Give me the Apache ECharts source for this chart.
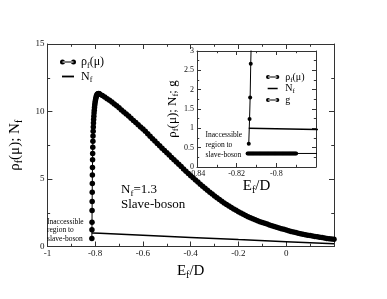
<!DOCTYPE html>
<html><head><meta charset="utf-8">
<script src="https://cdn.jsdelivr.net/npm/echarts@6/dist/echarts.min.js"></script>
<style>html,body{margin:0;padding:0;background:#fff}#c{width:387px;height:299px}</style>
</head><body><div id="c"></div>
<script>
// ---- data ----
const rhoE = [-0.8139,-0.8135,-0.8132,-0.8129,-0.8126,-0.8123,-0.812,-0.8117,-0.8113,-0.8109,-0.8105,-0.81,-0.8095,-0.809,-0.8084,-0.8078,-0.8071,-0.8064,-0.8056,-0.8047,-0.8038,-0.8028,-0.8017,-0.8005,-0.7992,-0.7978,-0.7962,-0.7945,-0.7925,-0.7903,-0.788,-0.7855,-0.783,
-0.78,-0.77,-0.76,-0.75,-0.74,-0.73,-0.72,-0.71,-0.70,-0.69,-0.68,-0.67,-0.66,-0.65,-0.64,-0.63,-0.62,-0.61,-0.60,-0.59,-0.58,-0.57,-0.56,-0.55,-0.54,-0.53,-0.52,-0.51,-0.50,-0.49,-0.48,-0.47,-0.46,-0.45,-0.44,-0.43,-0.42,-0.41,-0.40,-0.39,-0.38,-0.37,-0.36,-0.35,-0.34,-0.33,-0.32,-0.31,-0.30,-0.29,-0.28,-0.27,-0.26,-0.25,-0.24,-0.23,-0.22,-0.21,-0.20,-0.19,-0.18,-0.17,-0.16,-0.15,-0.14,-0.13,-0.12,-0.11,-0.10,-0.09,-0.08,-0.07,-0.06,-0.05,-0.04,-0.03,-0.02,-0.01,0.00,0.01,0.02,0.03,0.04,0.05,0.06,0.07,0.08,0.09,0.10,0.11,0.12,0.13,0.14,0.15,0.16,0.17,0.18,0.19,0.20];
const rhoV = [0.60,1.24,1.80,2.67,3.33,4.02,4.66,5.29,5.86,6.42,6.89,7.35,7.79,8.19,8.53,8.85,9.14,9.41,9.64,9.88,10.10,10.30,10.48,10.64,10.79,10.93,11.06,11.16,11.24,11.29,11.32,11.33,11.31,
11.28,11.18,11.07,10.95,10.83,10.70,10.56,10.42,10.27,10.12,9.97,9.82,9.66,9.50,9.34,9.18,9.02,8.86,8.70,8.53,8.35,8.17,7.99,7.81,7.63,7.46,7.28,7.11,6.94,6.77,6.60,6.43,6.26,6.09,5.92,5.75,5.58,5.41,5.25,5.09,4.93,4.77,4.61,4.46,4.31,4.16,4.02,3.88,3.74,3.61,3.48,3.35,3.23,3.11,3.00,2.89,2.78,2.68,2.58,2.48,2.39,2.30,2.21,2.13,2.05,1.98,1.91,1.84,1.78,1.72,1.66,1.60,1.54,1.48,1.43,1.37,1.32,1.27,1.22,1.17,1.12,1.08,1.04,0.99,0.95,0.91,0.87,0.84,0.81,0.78,0.75,0.72,0.69,0.66,0.63,0.60,0.58,0.56,0.54];
const nfE = [-0.8139,-0.78,-0.6,-0.4,-0.2,0.0,0.2];
const nfV = [1.0,0.973,0.83,0.675,0.515,0.36,0.2];
const gE = [-0.8145,-0.814,-0.8135,-0.813,-0.8125,-0.812,-0.8115,-0.811,-0.8105,-0.810,-0.8095,-0.809,-0.8085,-0.808,-0.8075,-0.807,-0.8065,-0.806,-0.8055,-0.805,-0.8045,-0.804,-0.8035,-0.803,-0.8025,-0.802,-0.8015,-0.801,-0.8005,-0.800,-0.7995,-0.799,-0.7985,-0.798,-0.7975,-0.797,-0.7965,-0.796,-0.7955,-0.795,-0.7945,-0.794,-0.7935,-0.793,-0.7925,-0.792,-0.7915,-0.791,-0.7905,-0.790];
const gV = [0.35,0.35,0.35,0.35,0.35,0.35,0.35,0.35,0.35,0.35,0.35,0.35,0.35,0.35,0.35,0.35,0.35,0.35,0.35,0.35,0.35,0.35,0.35,0.35,0.35,0.35,0.35,0.35,0.35,0.35,0.35,0.35,0.35,0.35,0.35,0.35,0.35,0.35,0.35,0.35,0.35,0.35,0.35,0.35,0.35,0.35,0.35,0.35,0.35,0.35];
const gTailE = [-0.790,-0.77];
const gTailV = [0.35,0.35];
const mainXRange = [-1, 0.2], mainYRange = [0, 15];
const insetXRange = [-0.84, -0.78], insetYRange = [0, 3];

const F = 'Liberation Serif';
const pairs = (a, b) => a.map((x, i) => [x, b[i]]);
const fmt = v => String(Math.round(v * 100) / 100);
const richT = (n, s) => ({
  n: {fontFamily: F, fontSize: n, lineHeight: n + 3, color: '#000'},
  s: {fontFamily: F, fontSize: s, lineHeight: s + 1, color: '#000', verticalAlign: 'bottom'}
});
const LC = '#333';

function xAx(grid, rng, step, pos, showLab, fs, tl, name, gap) {
  return {
    gridIndex: grid, type: 'value', min: rng[0], max: rng[1], interval: step, position: pos,
    axisLine: {show: true, onZero: false, lineStyle: {color: LC, width: 1}},
    axisTick: {show: true, inside: true, length: tl, lineStyle: {color: LC}},
    minorTick: {show: true, splitNumber: 2, length: tl * 0.55, lineStyle: {color: LC}},
    splitLine: {show: false}, minorSplitLine: {show: false},
    axisLabel: {show: showLab, fontFamily: F, fontSize: fs, color: '#111', margin: 3, hideOverlap: false,
      showMinLabel: true,
      formatter: v => (Math.abs(v - rng[1]) < 1e-9 ? '' : fmt(v))},
    name: name || '', nameLocation: 'middle', nameGap: gap || 0,
    nameTextStyle: {rich: richT(15, 10)}
  };
}
function yAx(grid, rng, step, pos, showLab, fs, tl, name, gap, nfs) {
  return {
    gridIndex: grid, type: 'value', min: rng[0], max: rng[1], interval: step, position: pos,
    axisLine: {show: true, onZero: false, lineStyle: {color: LC, width: 1}},
    axisTick: {show: true, inside: true, length: tl, lineStyle: {color: LC}},
    minorTick: {show: true, splitNumber: 2, length: tl * 0.55, lineStyle: {color: LC}},
    splitLine: {show: false}, minorSplitLine: {show: false},
    axisLabel: {show: showLab, fontFamily: F, fontSize: fs, color: '#111', margin: 3, formatter: v => fmt(v)},
    name: name || '', nameLocation: 'middle', nameGap: gap || 0,
    nameTextStyle: {rich: richT(nfs || 15, (nfs || 15) * 0.66)}
  };
}

const dotLine = 'path://M0,3a2.5,2.5 0 1,0 5,0a2.5,2.5 0 1,0 -5,0zM2.5,2.5h11v1h-11zM11,3a2.5,2.5 0 1,0 5,0a2.5,2.5 0 1,0 -5,0zM0,0M16,6';
const barLine = 'path://M0,0M2,2.1h12v1.8h-12zM16,6';
const legFmt = name => name === 'rho' ? '{n|ρ}{s|f}{n|(μ)}' : (name === 'Nf' ? '{n|N}{s|f}' : '{n|g}');

const chart = echarts.init(document.getElementById('c'), null, {renderer: 'canvas'});
chart.setOption({
  animation: false,
  backgroundColor: '#fff',
  grid: [
    {left: 43, top: 44, width: 291, height: 202.5, show: false},
    {left: 197, top: 51, width: 119, height: 116, show: true, backgroundColor: '#fff', borderWidth: 0}
  ],
  xAxis: [
    xAx(0, mainXRange, 0.2, 'bottom', true, 9, 5, '{n|E}{s|f}{n|/D}', 9),
    xAx(0, mainXRange, 0.2, 'top', false, 9, 5),
    xAx(1, insetXRange, 0.02, 'bottom', true, 8, 4, '{n|E}{s|f}{n|/D}', 7),
    xAx(1, insetXRange, 0.02, 'top', false, 8, 4)
  ],
  yAxis: [
    yAx(0, mainYRange, 5, 'left', true, 9, 5, '{n|ρ}{s|f}{n|(μ); N}{s|f}', 12, 15),
    yAx(0, mainYRange, 5, 'right', false, 9, 5),
    yAx(1, insetYRange, 0.5, 'left', true, 8, 4, '{n|ρ}{s|f}{n|(μ); N}{s|f}{n|; g}', 15, 13),
    yAx(1, insetYRange, 0.5, 'right', false, 8, 4)
  ],
  legend: [
    {orient: 'vertical', left: 55, top: 51, itemWidth: 16, itemHeight: 6, itemGap: 1,
     data: [{name: 'rho', icon: dotLine}, {name: 'Nf', icon: barLine}],
     formatter: legFmt, textStyle: {rich: richT(12, 8)}, selectedMode: false},
    {orient: 'vertical', left: 261, top: 67, itemWidth: 15, itemHeight: 5, itemGap: 0,
     data: [{name: 'rho', icon: dotLine}, {name: 'Nf', icon: barLine}, {name: 'g', icon: dotLine}],
     formatter: legFmt, textStyle: {rich: richT(10, 7)}, selectedMode: false}
  ],
  series: [
    {name: 'rho', type: 'line', xAxisIndex: 0, yAxisIndex: 0, data: pairs(rhoE, rhoV),
     symbol: 'circle', symbolSize: 5.5, showAllSymbol: true, color: '#000',
     itemStyle: {color: '#000'}, lineStyle: {color: '#000', width: 1}, z: 3},
    {name: 'Nf', type: 'line', xAxisIndex: 0, yAxisIndex: 0, data: pairs(nfE, nfV),
     showSymbol: false, symbol: 'none', color: '#000', lineStyle: {color: '#000', width: 1.5}},
    {name: 'rho', type: 'line', xAxisIndex: 2, yAxisIndex: 2, data: pairs(rhoE, rhoV),
     symbol: 'circle', symbolSize: 4, showAllSymbol: true, color: '#000', clip: true,
     itemStyle: {color: '#000'}, lineStyle: {color: '#000', width: 1}, z: 5},
    {name: 'Nf', type: 'line', xAxisIndex: 2, yAxisIndex: 2, data: pairs(nfE, nfV),
     showSymbol: false, symbol: 'none', color: '#000', clip: true, lineStyle: {color: '#000', width: 1.5}, z: 5},
    {name: 'g', type: 'line', xAxisIndex: 2, yAxisIndex: 2, data: pairs(gE, gV),
     symbol: 'circle', symbolSize: 4, showAllSymbol: true, color: '#000', clip: true,
     itemStyle: {color: '#000'}, lineStyle: {color: '#000', width: 1}, z: 5},
    {name: 'gtail', type: 'line', xAxisIndex: 2, yAxisIndex: 2, data: pairs(gTailE, gTailV),
     symbol: 'none', color: '#000', clip: true, lineStyle: {color: '#000', width: 1}, z: 5}
  ],
  graphic: [
    {type: 'text', x: 121, y: 190, z: 10, style: {text: '{n|N}{s|f}{n|=1.3}', rich: richT(13, 9), verticalAlign: 'middle'}},
    {type: 'text', x: 121, y: 205, z: 10, style: {text: 'Slave-boson', fontFamily: F, fontSize: 13, fill: '#000', verticalAlign: 'middle'}},
    {type: 'text', x: 47, y: 230.5, z: 10, style: {text: 'Inaccessible\nregion to\nslave-boson', fontFamily: F, fontSize: 7.5, lineHeight: 8.7, fill: '#000', verticalAlign: 'middle'}},
    {type: 'text', x: 205.5, y: 145, z: 10, style: {text: 'Inaccessible\nregion to\nslave-boson', fontFamily: F, fontSize: 7.5, lineHeight: 10, fill: '#000', verticalAlign: 'middle'}}
  ]
});
</script></body></html>
